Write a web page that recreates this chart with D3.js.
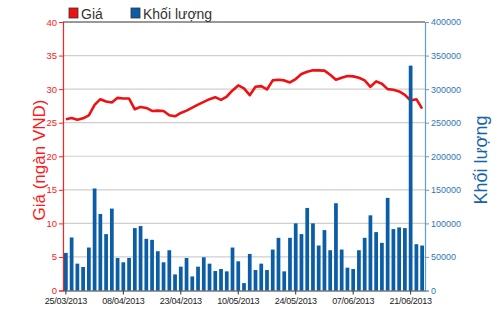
<!DOCTYPE html>
<html>
<head>
<meta charset="utf-8">
<script src="https://cdn.jsdelivr.net/npm/d3@7"></script>
<style>
  body { margin: 0; background: #fff; }
  svg { font-family: "Liberation Sans", Arial, sans-serif; }
</style>
</head>
<body>
<div id="chart"></div>
<script>
const dates = [
  '25/03/2013', '26/03/2013', '27/03/2013', '28/03/2013', '29/03/2013',
  '01/04/2013', '02/04/2013', '03/04/2013', '04/04/2013', '05/04/2013',
  '08/04/2013', '09/04/2013', '10/04/2013', '11/04/2013', '12/04/2013',
  '15/04/2013', '16/04/2013', '17/04/2013', '18/04/2013', '22/04/2013',
  '23/04/2013', '24/04/2013', '25/04/2013', '26/04/2013', '02/05/2013',
  '03/05/2013', '06/05/2013', '07/05/2013', '08/05/2013', '09/05/2013',
  '10/05/2013', '13/05/2013', '14/05/2013', '15/05/2013', '16/05/2013',
  '17/05/2013', '20/05/2013', '21/05/2013', '22/05/2013', '23/05/2013',
  '24/05/2013', '27/05/2013', '28/05/2013', '29/05/2013', '30/05/2013',
  '31/05/2013', '03/06/2013', '04/06/2013', '05/06/2013', '06/06/2013',
  '07/06/2013', '10/06/2013', '11/06/2013', '12/06/2013', '13/06/2013',
  '14/06/2013', '17/06/2013', '18/06/2013', '19/06/2013', '20/06/2013',
  '21/06/2013', '24/06/2013', '25/06/2013'
];

// giá (ngàn VND)
const price = [
  25.5, 25.7, 25.45, 25.65, 26.1, 27.65, 28.5, 28.15, 28.0, 28.7,
  28.6, 28.6, 27.0, 27.35, 27.2, 26.75, 26.8, 26.75, 26.1, 25.95,
  26.45, 26.8, 27.25, 27.7, 28.1, 28.5, 28.8, 28.4, 28.9, 29.8,
  30.55, 30.1, 29.1, 30.35, 30.45, 29.95, 31.3, 31.4, 31.3, 31.0,
  31.5, 32.25, 32.6, 32.8, 32.8, 32.75, 32.15, 31.4, 31.7, 31.95,
  31.9, 31.7, 31.3, 30.35, 31.15, 30.8, 30.0, 29.9, 29.65, 29.15,
  28.3, 28.5, 27.1
];

// khối lượng
const volume = [
  56000, 79000, 40000, 35000, 64000, 152000, 114000, 84000, 122000, 48500,
  42000, 48500, 93000, 96000, 77000, 75500, 58500, 42000, 60000, 24000,
  35500, 48500, 21000, 35500, 49500, 40000, 29000, 32000, 28500, 64000,
  43500, 11000, 54500, 30500, 40000, 30500, 61000, 78500, 28500, 78500,
  100000, 84000, 123000, 100000, 67000, 90000, 60000, 130000, 61000, 34000,
  32000, 60000, 78500, 112000, 87000, 71000, 138000, 91500, 94000, 93000,
  335000, 69000, 67000
];

const xTicks = ['25/03/2013', '08/04/2013', '23/04/2013', '10/05/2013', '24/05/2013', '07/06/2013', '21/06/2013'];
const priceTicks = [0, 5, 10, 15, 20, 25, 30, 35, 40];
const volumeTicks = [0, 50000, 100000, 150000, 200000, 250000, 300000, 350000, 400000];

const width = 500, height = 312;
const plotLeft = 63, plotRight = 425, plotTop = 22, plotBottom = 290.5;

const svg = d3.select('#chart').append('svg')
  .attr('width', width)
  .attr('height', height);

const x = d3.scaleBand()
  .domain(dates)
  .range([plotLeft, plotRight])
  .paddingInner(0.35)
  .paddingOuter(0.175);

const yPrice = d3.scaleLinear().domain([0, 40]).range([plotBottom, plotTop]);
const yVol = d3.scaleLinear().domain([0, 400000]).range([plotBottom, plotTop]);

// grid
svg.append('g')
  .selectAll('line')
  .data(priceTicks.slice(1, -1))
  .enter().append('line')
    .attr('x1', plotLeft)
    .attr('x2', plotRight)
    .attr('y1', d => yPrice(d))
    .attr('y2', d => yPrice(d))
    .attr('stroke', '#cfcfcf')
    .attr('stroke-width', 1.2);

// top border
svg.append('line')
  .attr('x1', plotLeft).attr('x2', plotRight)
  .attr('y1', plotTop).attr('y2', plotTop)
  .attr('stroke', '#333')
  .attr('stroke-width', 1);

// price line
const line = d3.line()
  .x((d, i) => x(dates[i]) + x.bandwidth() / 2)
  .y(d => yPrice(d));

svg.append('path')
  .datum(price)
  .attr('d', line)
  .attr('fill', 'none')
  .attr('stroke', '#ee1111')
  .attr('stroke-width', 2.6)
  .attr('stroke-linejoin', 'round');

// volume bars
svg.append('g')
  .selectAll('rect')
  .data(volume)
  .enter().append('rect')
    .attr('x', (d, i) => x(dates[i]))
    .attr('y', d => yVol(d))
    .attr('width', x.bandwidth())
    .attr('height', d => plotBottom - yVol(d))
    .attr('fill', '#0b5ea6');

// left axis
const gLeft = svg.append('g')
  .attr('transform', `translate(${plotLeft},0)`)
  .call(d3.axisLeft(yPrice).tickValues(priceTicks).tickSize(4).tickPadding(2));
gLeft.select('.domain').attr('stroke', '#ff2020').attr('stroke-width', 1.2);
gLeft.selectAll('.tick line').attr('stroke', '#ff2020');
gLeft.selectAll('.tick text')
  .attr('fill', '#ff2020')
  .style('font-size', '9.5px')
  .style('font-family', '"Liberation Sans", Arial, sans-serif');

// right axis
const gRight = svg.append('g')
  .attr('transform', `translate(${plotRight},0)`)
  .call(d3.axisRight(yVol).tickValues(volumeTicks).tickSize(4).tickPadding(2).tickFormat(d3.format('d')));
gRight.select('.domain').attr('stroke', '#5a9fd0').attr('stroke-width', 1.2);
gRight.selectAll('.tick line').attr('stroke', '#5a9fd0');
gRight.selectAll('.tick text')
  .attr('fill', '#2f78b4')
  .style('font-size', '9px')
  .style('font-family', '"Liberation Sans", Arial, sans-serif');

// bottom axis
const gBottom = svg.append('g')
  .attr('transform', `translate(0,${plotBottom})`)
  .call(d3.axisBottom(x).tickValues(xTicks).tickSize(4).tickPadding(3).tickSizeOuter(0));
gBottom.select('.domain').attr('stroke', '#333');
gBottom.selectAll('.tick line').attr('stroke', '#333');
gBottom.selectAll('.tick text')
  .attr('fill', '#222')
  .style('font-size', '9px')
  .style('font-family', '"Liberation Sans", Arial, sans-serif')
  .style('letter-spacing', '-0.3px');

// axis titles
svg.append('text')
  .attr('transform', 'translate(45,160) rotate(-90)')
  .attr('text-anchor', 'middle')
  .attr('fill', '#ff1a1a')
  .style('font-size', '17px')
  .text('Giá (ngàn VND)');

svg.append('text')
  .attr('transform', 'translate(487,160) rotate(-90)')
  .attr('text-anchor', 'middle')
  .attr('fill', '#1664a4')
  .style('font-size', '18px')
  .text('Khối lượng');

// legend
const legend = [
  { label: 'Giá', color: '#ee1111', x: 69 },
  { label: 'Khối lượng', color: '#0b5ea6', x: 131 }
];
const gLegend = svg.append('g');
gLegend.selectAll('rect')
  .data(legend)
  .enter().append('rect')
    .attr('x', d => d.x)
    .attr('y', 8)
    .attr('width', 9)
    .attr('height', 10)
    .attr('fill', d => d.color)
    .attr('stroke', '#333')
    .attr('stroke-width', 0.8);
gLegend.selectAll('text')
  .data(legend)
  .enter().append('text')
    .attr('x', d => d.x + 12)
    .attr('y', 18.5)
    .attr('fill', '#333')
    .style('font-size', '14px')
    .text(d => d.label);
</script>
</body>
</html>
